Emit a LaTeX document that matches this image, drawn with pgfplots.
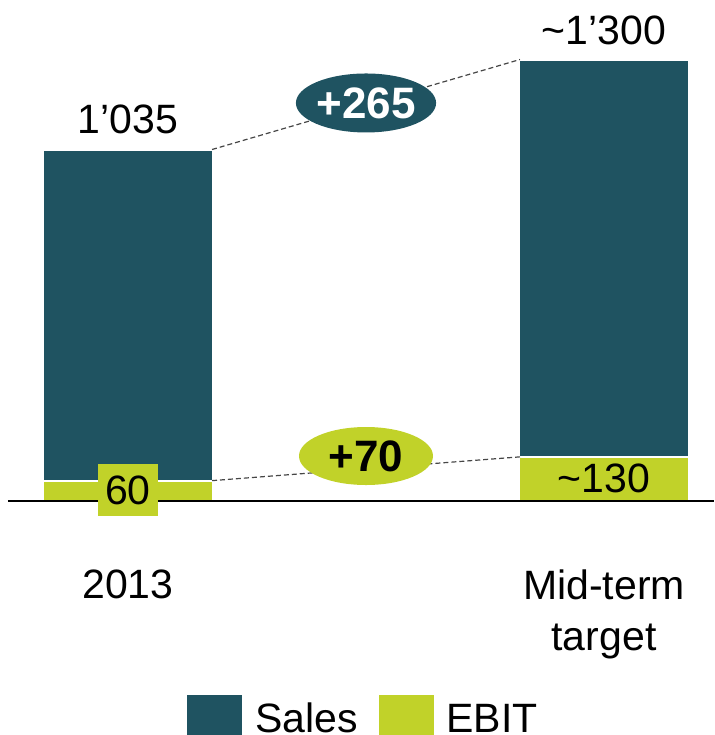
\documentclass[border=0pt]{standalone}
\usepackage{pgfplots}
\pgfplotsset{compat=1.18}
\usepackage{fontspec}
\setmainfont{Liberation Sans}
\usetikzlibrary{shapes.geometric}
\definecolor{salesteal}{RGB}{31,83,97}
\definecolor{ebitlime}{RGB}{193,210,41}
\definecolor{dashgray}{RGB}{70,70,70}
\begin{document}
\fontsize{20.5}{25.5}\selectfont
\begin{tikzpicture}
\begin{axis}[
  name=ax,
  scale only axis,
  width=357pt, height=367.5pt,
  xmin=-0.2689, xmax=1.2311,
  ymin=-689, ymax=1475.3,
  clip=false,
  axis line style={draw=none},
  major tick length=0pt,
  ytick=\empty,
  xtick={0,1},
  xticklabels={2013,{Mid-term\\target}},
  xticklabel style={align=center, anchor=north, yshift=83pt, inner sep=0pt},
  ybar stacked,
  bar width=85pt,
  reverse legend,
  legend columns=2,
  legend style={draw=none, fill=none, at={(rel axis cs:0.2591,0.0571)},
    anchor=north west, inner sep=0pt, outer sep=0pt,
    cells={anchor=base west, inner sep=0pt},
    /tikz/every odd column/.append style={column sep=3.5pt},
    /tikz/every even column/.append style={column sep=7.5pt}},
  legend image code/.code={\fill[#1] (0pt,-9.5pt) rectangle (28.5pt,19pt);},
]
% EBIT at the bottom, rest of sales on top (1035-60, 1300-130)
\addplot[fill=ebitlime, draw=white, line width=1pt] coordinates {(0,60) (1,130)};
\addplot[fill=salesteal, draw=white, line width=1pt] coordinates {(0,975) (1,1170)};
\legend{EBIT, Sales}

% anchor points for the annotations, drawn after the axis
\coordinate (s0) at (axis cs:0.1765,1035);
\coordinate (s1) at (axis cs:0.8235,1300);
\coordinate (e0) at (axis cs:0.1765,60);
\coordinate (e1) at (axis cs:0.8235,130);
\coordinate (dS) at (axis cs:0.5,1172);
\coordinate (dE) at (axis cs:0.5,132.5);
\coordinate (b0) at (axis cs:-0.2521,0);
\coordinate (b1) at (axis cs:1.2311,0);
\coordinate (l60) at (axis cs:0,32.4);
\coordinate (l130) at (axis cs:1,67.7);
\coordinate (l1035) at (axis cs:0,1083);
\coordinate (l1300) at (axis cs:1,1343);
\end{axis}

\draw[dashgray, line width=0.6pt, dash pattern=on 2.5pt off 1.5pt] (s0) -- (s1);
\draw[dashgray, line width=0.6pt, dash pattern=on 2.5pt off 1.5pt] (e0) -- (e1);
\node[ellipse, fill=salesteal, minimum width=67pt, minimum height=29.5pt,
  inner sep=0pt, text=white, font=\fontsize{22}{24}\bfseries] at (dS) {+265};
\node[ellipse, fill=ebitlime, minimum width=67pt, minimum height=29pt,
  inner sep=0pt, font=\fontsize{22}{24}\bfseries] at (dE) {+70};
\draw[black, line width=1.2pt] (b0) -- (b1);
\node[fill=ebitlime, minimum width=30pt, minimum height=26pt, inner sep=0pt]
  at (l60) {60};
\node[inner sep=0pt] at (l130) {\char`\~130};
\node[anchor=base, inner sep=0pt] at (l1035) {1’035};
\node[anchor=base, inner sep=0pt] at (l1300) {\char`\~1’300};

\pgfresetboundingbox
\path[use as bounding box] (ax.south west) rectangle (ax.north east);
\end{tikzpicture}
\end{document}
